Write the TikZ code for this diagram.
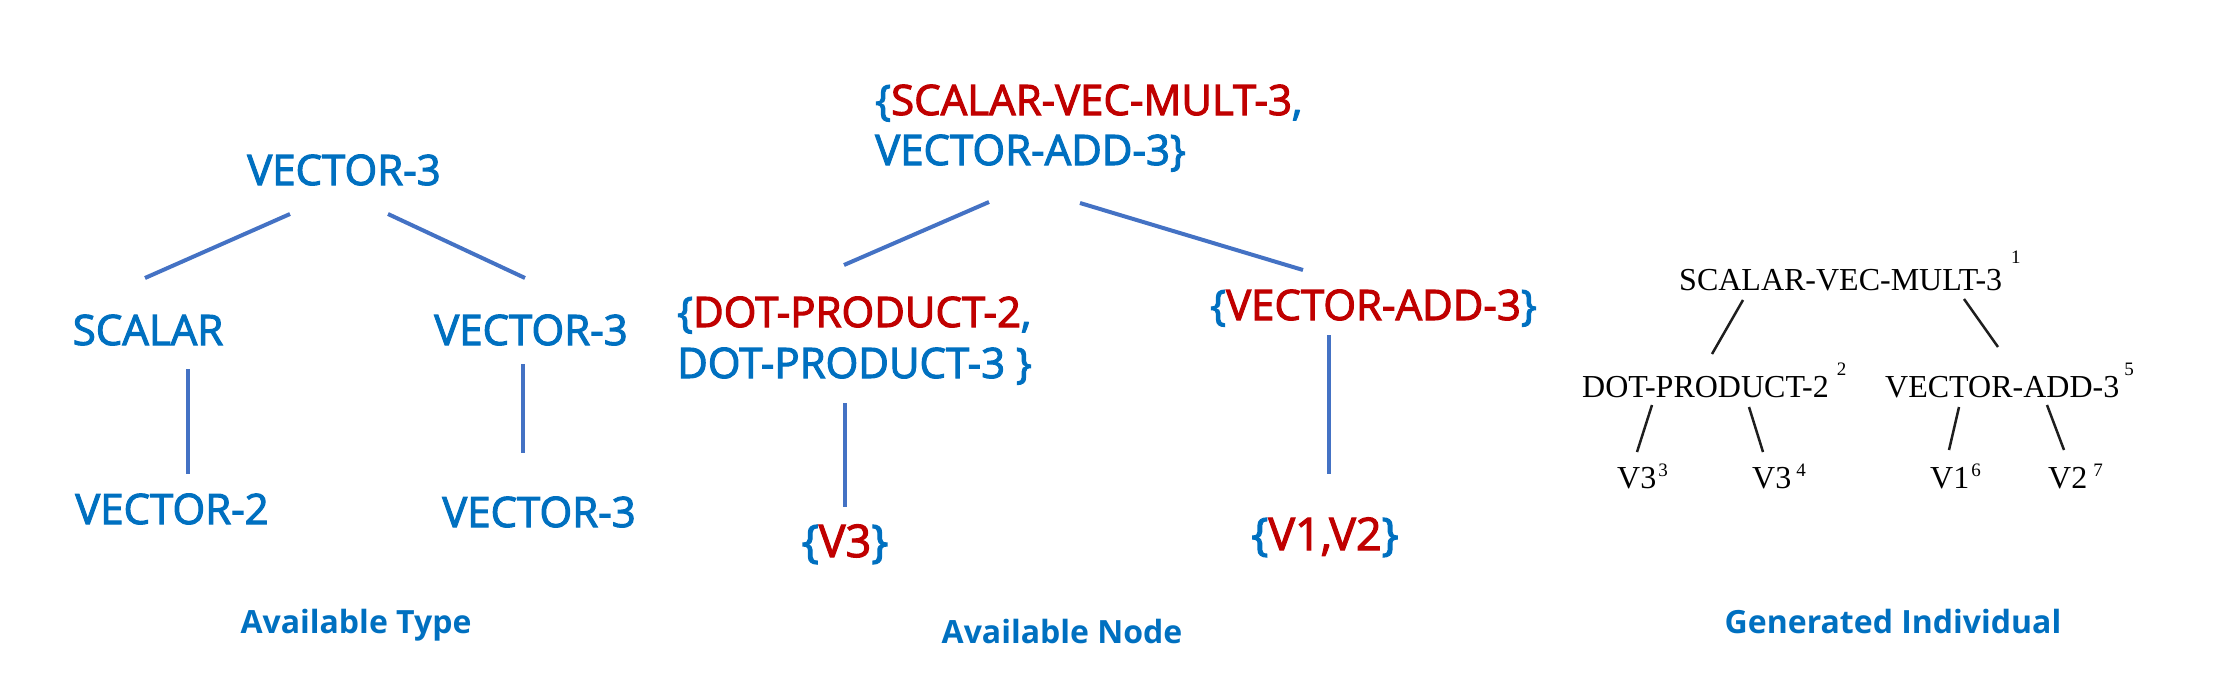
\documentclass[tikz,border=0pt]{standalone}
\usepackage{fontspec}
\setmainfont{Open Sans}
\newfontfamily\labfont{Open Sans}[FakeBold=2.5]
\newfontfamily\tnrfont{Liberation Serif}
\definecolor{blueT}{RGB}{0,112,192}
\definecolor{redT}{RGB}{192,0,0}
\definecolor{lineblue}{RGB}{68,114,196}
\definecolor{ink}{RGB}{30,30,30}
\newcommand{\supr}[2]{\raisebox{#1pt}{\fontsize{19}{21}\selectfont #2}}
\newcommand{\bl}[1]{{\color{blueT}#1}}
\newcommand{\rd}[1]{{\color{redT}#1}}
\begin{document}
\begin{tikzpicture}[x=1pt,y=-1pt,
  lbl/.style={inner sep=0pt, text=blueT, font=\labfont\fontsize{42}{50}\selectfont},
  lblsm/.style={inner sep=0pt, text=blueT, font=\labfont\fontsize{45}{52}\selectfont},
  caption/.style={inner sep=0pt, text=blueT, font=\bfseries\fontsize{32}{38}\selectfont},
  tnode/.style={inner sep=0pt, text=black, font=\tnrfont\fontsize{32}{38}\selectfont},
  conn/.style={draw=lineblue, line width=4pt},
  tconn/.style={draw=ink, line width=2.5pt}]
\useasboundingbox (0,0) rectangle (2223,697);
% ---------------- Available Type ----------------
\node[lbl, anchor=base] (t1) at (344,185) {VECTOR-3};
\node[lbl, anchor=base] (t2) at (148,345) {SCALAR};
\node[lbl, anchor=base] (t3) at (531,345) {VECTOR-3};
\node[lbl, anchor=base] (t4) at (172,524) {VECTOR-2};
\node[lbl, anchor=base] (t5) at (539,527) {VECTOR-3};
\coordinate (t1a) at (290,214); \coordinate (t2a) at (145,278);
\coordinate (t1b) at (388,214); \coordinate (t3a) at (525,278);
\coordinate (t2b) at (188,369); \coordinate (t4a) at (188,474);
\coordinate (t3b) at (523,364); \coordinate (t5a) at (523,453);
\draw[conn] (t1a) -- (t2a);
\draw[conn] (t1b) -- (t3a);
\draw[conn] (t2b) -- (t4a);
\draw[conn] (t3b) -- (t5a);
\node[caption, anchor=base] (cap1) at (356,633) {Available Type};
% ---------------- Available Node ----------------
% base anchor of a two-line node is the baseline of its last line
\node[lbl, anchor=base west, align=left] (m1) at (875,165)
  {\bl{\{}\rd{SCALAR-VEC-MULT-3}\bl{,}\\\bl{VECTOR-ADD-3\}}};
\node[lbl, anchor=base west, align=left, font=\labfont\fontsize{42}{51}\selectfont] (m2) at (677,378)
  {\bl{\{}\rd{DOT-PRODUCT-2}\bl{,}\\\bl{DOT-PRODUCT-3 \}}};
\node[lbl, anchor=base west] (m4) at (1210,320) {\bl{\{}\rd{VECTOR-ADD-3}\bl{\}}};
\node[lblsm, anchor=base] (m3) at (845,557) {\bl{\{}\rd{V3}\bl{\}}};
\node[lblsm, anchor=base] (m5) at (1325,550) {\bl{\{}\rd{V1,V2}\bl{\}}};
\coordinate (m1a) at (989,202); \coordinate (m2a) at (844,265);
\coordinate (m1b) at (1080,203); \coordinate (m4a) at (1303,270);
\coordinate (m2b) at (845,403); \coordinate (m3a) at (845,507);
\coordinate (m4b) at (1329,335); \coordinate (m5a) at (1329,474);
\draw[conn] (m1a) -- (m2a);
\draw[conn] (m1b) -- (m4a);
\draw[conn] (m2b) -- (m3a);
\draw[conn] (m4b) -- (m5a);
\node[caption, anchor=base] (cap2) at (1062,643) {Available Node};
% ---------------- Generated Individual ----------------
\node[tnode, anchor=base west] (r1) at (1679,290) {SCALAR-VEC-MULT-3\hspace{9pt}\supr{27}{1}};
\node[tnode, anchor=base west] (r2) at (1582,397) {DOT-PRODUCT-2\hspace{8pt}\supr{22}{2}};
\node[tnode, anchor=base west] (r3) at (1885,397) {VECTOR-ADD-3\hspace{5pt}\supr{22}{5}};
\node[tnode, anchor=base west] (r4) at (1617,488) {V3\hspace{2pt}\supr{12}{3}};
\node[tnode, anchor=base west] (r5) at (1752,488) {V3\hspace{5pt}\supr{12}{4}};
\node[tnode, anchor=base west] (r6) at (1930,488) {V1\hspace{2pt}\supr{12}{6}};
\node[tnode, anchor=base west] (r7) at (2048,488) {V2\hspace{6pt}\supr{12}{7}};
\coordinate (r1a) at (1743,300); \coordinate (r2a) at (1712,354);
\coordinate (r1b) at (1964,299); \coordinate (r3a) at (1998,347);
\coordinate (r2b) at (1652,405); \coordinate (r4a) at (1637,452);
\coordinate (r2c) at (1749,407); \coordinate (r5a) at (1763,452);
\coordinate (r3b) at (1959,407); \coordinate (r6a) at (1949,450);
\coordinate (r3c) at (2047,405); \coordinate (r7a) at (2064,450);
\draw[tconn] (r1a) -- (r2a);
\draw[tconn] (r1b) -- (r3a);
\draw[tconn] (r2b) -- (r4a);
\draw[tconn] (r2c) -- (r5a);
\draw[tconn] (r3b) -- (r6a);
\draw[tconn] (r3c) -- (r7a);
\node[caption, anchor=base] (cap3) at (1893,633) {Generated Individual};
\end{tikzpicture}
\end{document}
